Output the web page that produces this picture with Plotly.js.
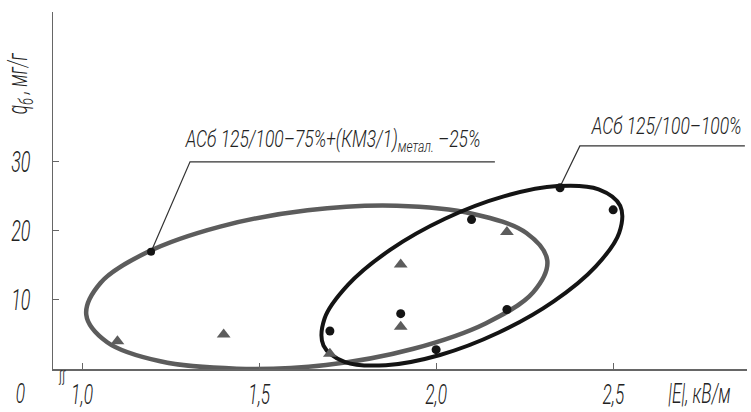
<!DOCTYPE html>
<html><head><meta charset="utf-8">
<script src="https://cdn.plot.ly/plotly-3.0.1.min.js"></script>
<style>html,body{margin:0;padding:0;background:#fff}</style>
</head><body>
<div id="chart" style="width:751px;height:412px"></div>
<script>
// Data
var circleX = [1.70, 1.90, 2.00, 2.10, 2.20, 2.35, 2.50];
var circleY = [5.5, 8.0, 2.8, 21.6, 8.6, 26.2, 23.0];
var triX = [1.10, 1.40, 1.70, 1.90, 1.90, 2.20];
var triY = [4.0, 5.0, 2.2, 15.1, 6.1, 19.8];

// Outline of the grey envelope (АСб 125/100–75% + (КМ3/1)метал –25%)
var grayEnvX = [2.314, 2.274, 2.141, 1.936, 1.689, 1.437, 1.221, 1.071, 1.012, 1.052, 1.185, 1.390, 1.637, 1.889, 2.105, 2.255, 2.314];
var grayEnvY = [15.67, 11.08, 6.62, 2.93, 0.58, 0.05, 1.11, 3.87, 7.85, 12.44, 16.90, 20.59, 22.94, 23.59, 22.41, 19.65, 15.67];
// Outline of the black envelope (АСб 125/100–100%)
var blackEnvX = [2.520, 2.517, 2.451, 2.332, 2.177, 2.011, 1.858, 1.743, 1.682, 1.685, 1.751, 1.870, 2.025, 2.191, 2.343, 2.459, 2.520];
var blackEnvY = [23.59, 19.68, 14.83, 9.77, 5.27, 2.03, 0.55, 1.01, 3.39, 7.30, 12.15, 17.22, 21.72, 24.95, 26.44, 25.97, 23.59];

// Leader lines for the two labels
var grayLeaderX = [1.195, 1.305, 2.166];
var grayLeaderY = [16.95, 29.94, 29.94];
var blackLeaderX = [2.350, 2.406, 2.872];
var blackLeaderY = [26.35, 32.25, 32.25];

var xTickVals = [1.0, 1.5, 2.0, 2.5];
var xTickText = ['1,0', '1,5', '2,0', '2,5'];
var yTickVals = [10, 20, 30];
var yTickText = ['10', '20', '30'];

var grayLabel = 'АСб 125/100–75%+(КМ3/1)<sub>метал.</sub> –25%';
var blackLabel = 'АСб 125/100–100%';

var FONT = 'Roboto, Lato, DejaVu Sans, sans-serif';
var GRAY = '#5c5c5c';
var BLACK = '#141414';

var traces = [
  {x: grayEnvX, y: grayEnvY, mode: 'lines', line: {color: GRAY, width: 4.5, shape: 'spline', smoothing: 1}, hoverinfo: 'skip'},
  {x: blackEnvX, y: blackEnvY, mode: 'lines', line: {color: BLACK, width: 4, shape: 'spline', smoothing: 1}, hoverinfo: 'skip'},
  {x: grayLeaderX, y: grayLeaderY, mode: 'lines', line: {color: '#333', width: 1.2}, hoverinfo: 'skip'},
  {x: blackLeaderX, y: blackLeaderY, mode: 'lines', line: {color: '#333', width: 1.2}, hoverinfo: 'skip'},
  {x: [grayLeaderX[0]], y: [grayLeaderY[0]], mode: 'markers', marker: {symbol: 'circle', size: 8, color: BLACK}, cliponaxis: false},
  {x: triX, y: triY, mode: 'markers', marker: {symbol: 'triangle-up', size: 12, color: GRAY}, cliponaxis: false},
  {x: circleX, y: circleY, mode: 'markers', marker: {symbol: 'circle', size: 9, color: BLACK}, cliponaxis: false}
];

var xTickFont = {family: FONT, size: 28, color: '#222', style: 'italic', weight: 300};
var yTickFont = {family: FONT, size: 30, color: '#222', style: 'italic', weight: 300};

var layout = {
  width: 751, height: 412,
  margin: {l: 53, r: 4, t: 12, b: 42.5, pad: 0},
  paper_bgcolor: '#fff', plot_bgcolor: '#fff',
  showlegend: false,
  xaxis: {
    range: [0.918, 2.878], showgrid: false, zeroline: false,
    showline: true, linecolor: '#666', linewidth: 1.5,
    tickmode: 'array', tickvals: xTickVals, ticktext: xTickText,
    ticks: 'inside', ticklen: 6, tickwidth: 1, tickcolor: '#666',
    tickfont: xTickFont, ticklabelstandoff: 0
  },
  yaxis: {
    range: [0, 51.6], showgrid: false, zeroline: false,
    showline: true, linecolor: '#666', linewidth: 1.5,
    tickmode: 'array', tickvals: yTickVals, ticktext: yTickText,
    ticks: 'inside', ticklen: 6, tickwidth: 1, tickcolor: '#666',
    tickfont: yTickFont, ticklabelstandoff: 15
  },
  annotations: [
    {xref: 'paper', yref: 'paper', x: -0.047, y: -0.068, text: '0', showarrow: false,
     font: xTickFont, xanchor: 'center', yanchor: 'middle'},
    {xref: 'paper', yref: 'paper', x: 0.0125, y: -0.022, text: 'ʃʃ', showarrow: false,
     font: {family: 'DejaVu Sans, sans-serif', size: 16, color: '#333'}, xanchor: 'center', yanchor: 'middle'},
    {xref: 'paper', yref: 'paper', x: 0.932, y: -0.068, text: '|E|, кВ/м', showarrow: false,
     font: {family: FONT, size: 28, color: '#222', style: 'italic', weight: 300}, xanchor: 'center', yanchor: 'middle'},
    {xref: 'paper', yref: 'paper', x: -0.048, y: 0.80, text: 'q<sub>б</sub> , мг/г', showarrow: false,
     textangle: -90, font: {family: FONT, size: 28, color: '#222', style: 'italic', weight: 300}, xanchor: 'center', yanchor: 'middle'},
    {xref: 'x', yref: 'y', x: 1.708, y: 32.97, text: grayLabel, showarrow: false,
     font: {family: FONT, size: 23, color: '#222', style: 'italic', weight: 300}, xanchor: 'center', yanchor: 'middle'},
    {xref: 'x', yref: 'y', x: 2.650, y: 34.99, text: blackLabel, showarrow: false,
     font: {family: FONT, size: 23, color: '#222', style: 'italic', weight: 300}, xanchor: 'center', yanchor: 'middle'}
  ]
};

// narrow the drawing-office lettering horizontally, keeping each text's anchor in place
function condense(el, s, anchor) {
  var b = el.getBBox();
  var cx = anchor === 'end' ? b.x + b.width : (anchor === 'start' ? b.x : b.x + b.width / 2);
  var t = el.getAttribute('transform') || '';
  el.setAttribute('transform', t + ' translate(' + cx + ',0) scale(' + s + ',1) translate(' + (-cx) + ',0)');
}

Plotly.newPlot('chart', traces, layout, {staticPlot: true, displayModeBar: false}).then(function (gd) {
  gd.querySelectorAll('.xtick text').forEach(function (el) { condense(el, 0.62, 'middle'); });
  gd.querySelectorAll('.ytick text').forEach(function (el) { condense(el, 0.6, 'end'); });
  var ann = gd.querySelectorAll('.annotation-text');
  ann.forEach(function (el, i) { condense(el, i >= 4 ? 0.76 : 0.62, 'middle'); });
});
</script>
</body></html>
